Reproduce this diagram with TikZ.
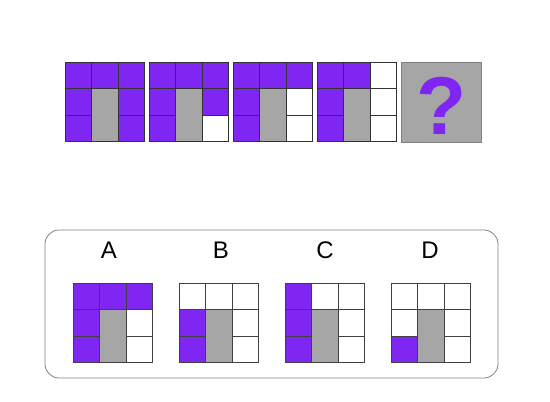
\documentclass[tikz,border=0pt]{standalone}
\usepackage{fontspec}
\setmainfont{Liberation Sans}
\definecolor{violet}{RGB}{127,38,243}
\definecolor{gris}{RGB}{166,166,166}
\tikzset{
  trait/.style={line width=0.8pt, draw=black!80},
  traitb/.style={line width=0.8pt, draw=black!75},
  lettre/.style={font=\fontsize{24}{28}\selectfont}
}
\begin{document}
\begin{tikzpicture}[x=1pt, y=-1pt]
    \useasboundingbox (0,0) rectangle (550,402);

    %suite 1
    \begin{scope}[shift={(65,62)}, x=26.5pt, y=-26.5pt]
    \fill[violet] (0,0) rectangle (3,3);
    \fill[gris] (1,1) rectangle (2,3);
    \draw[trait] (0,0) rectangle (3,3);
    \draw[trait] (1,0) -- (1,3);
    \draw[trait] (2,0) -- (2,3);
    \draw[trait] (0,1) -- (3,1);
    \draw[trait] (0,2) -- (1,2);
    \draw[trait] (2,2) -- (3,2);
    \end{scope}

    %suite 2
    \begin{scope}[shift={(149,62)}, x=26.5pt, y=-26.5pt]
    \fill[violet] (0,0) rectangle (3,2);
    \fill[violet] (0,2) rectangle (1,3);
    \fill[white] (2,2) rectangle (3,3);
    \fill[gris] (1,1) rectangle (2,3);
    \draw[trait] (0,0) rectangle (3,3);
    \draw[trait] (1,0) -- (1,3);
    \draw[trait] (2,0) -- (2,3);
    \draw[trait] (0,1) -- (3,1);
    \draw[trait] (0,2) -- (1,2);
    \draw[trait] (2,2) -- (3,2);
    \end{scope}

    %suite 3
    \begin{scope}[shift={(233,62)}, x=26.5pt, y=-26.5pt]
    \fill[white] (0,0) rectangle (3,3);
    \fill[violet] (0,0) rectangle (3,1);
    \fill[violet] (0,1) rectangle (1,3);
    \fill[gris] (1,1) rectangle (2,3);
    \draw[trait] (0,0) rectangle (3,3);
    \draw[trait] (1,0) -- (1,3);
    \draw[trait] (2,0) -- (2,3);
    \draw[trait] (0,1) -- (3,1);
    \draw[trait] (0,2) -- (1,2);
    \draw[trait] (2,2) -- (3,2);
    \end{scope}

    %suite 4
    \begin{scope}[shift={(317,62)}, x=26.5pt, y=-26.5pt]
    \fill[white] (0,0) rectangle (3,3);
    \fill[violet] (0,0) rectangle (2,1);
    \fill[violet] (0,1) rectangle (1,3);
    \fill[gris] (1,1) rectangle (2,3);
    \draw[trait] (0,0) rectangle (3,3);
    \draw[trait] (1,0) -- (1,3);
    \draw[trait] (2,0) -- (2,3);
    \draw[trait] (0,1) -- (3,1);
    \draw[trait] (0,2) -- (1,2);
    \draw[trait] (2,2) -- (3,2);
    \end{scope}

    %question
    \fill[gris, draw=black!50, line width=0.8pt] (401,62) rectangle (481,142);
    \node[violet, font=\bfseries\fontsize{82}{82}\selectfont] (interro) at (442,106) {?};

    %cadre des choix
    \draw[black!50, line width=0.8pt, rounded corners=14pt] (45,230) rectangle (498,378);

    \node[lettre] (lettreA) at (109,250) {A};
    \node[lettre] (lettreB) at (221,250) {B};
    \node[lettre] (lettreC) at (325,250) {C};
    \node[lettre] (lettreD) at (430,250) {D};

    %choix A
    \begin{scope}[shift={(73,283)}, x=26.5pt, y=-26.5pt]
    \fill[violet] (0,0) rectangle (3,1);
    \fill[violet] (0,1) rectangle (1,3);
    \fill[gris] (1,1) rectangle (2,3);
    \draw[traitb] (0,0) rectangle (3,3);
    \draw[traitb] (1,0) -- (1,3);
    \draw[traitb] (2,0) -- (2,3);
    \draw[traitb] (0,1) -- (3,1);
    \draw[traitb] (0,2) -- (1,2);
    \draw[traitb] (2,2) -- (3,2);
    \end{scope}

    %choix B
    \begin{scope}[shift={(179,283)}, x=26.5pt, y=-26.5pt]
    \fill[violet] (0,1) rectangle (1,3);
    \fill[gris] (1,1) rectangle (2,3);
    \draw[traitb] (0,0) rectangle (3,3);
    \draw[traitb] (1,0) -- (1,3);
    \draw[traitb] (2,0) -- (2,3);
    \draw[traitb] (0,1) -- (3,1);
    \draw[traitb] (0,2) -- (1,2);
    \draw[traitb] (2,2) -- (3,2);
    \end{scope}

    %choix C
    \begin{scope}[shift={(285,283)}, x=26.5pt, y=-26.5pt]
    \fill[violet] (0,0) rectangle (1,3);
    \fill[gris] (1,1) rectangle (2,3);
    \draw[traitb] (0,0) rectangle (3,3);
    \draw[traitb] (1,0) -- (1,3);
    \draw[traitb] (2,0) -- (2,3);
    \draw[traitb] (0,1) -- (3,1);
    \draw[traitb] (0,2) -- (1,2);
    \draw[traitb] (2,2) -- (3,2);
    \end{scope}

    %choix D
    \begin{scope}[shift={(391,283)}, x=26.5pt, y=-26.5pt]
    \fill[violet] (0,2) rectangle (1,3);
    \fill[gris] (1,1) rectangle (2,3);
    \draw[traitb] (0,0) rectangle (3,3);
    \draw[traitb] (1,0) -- (1,3);
    \draw[traitb] (2,0) -- (2,3);
    \draw[traitb] (0,1) -- (3,1);
    \draw[traitb] (0,2) -- (1,2);
    \draw[traitb] (2,2) -- (3,2);
    \end{scope}

\end{tikzpicture}
\end{document}
